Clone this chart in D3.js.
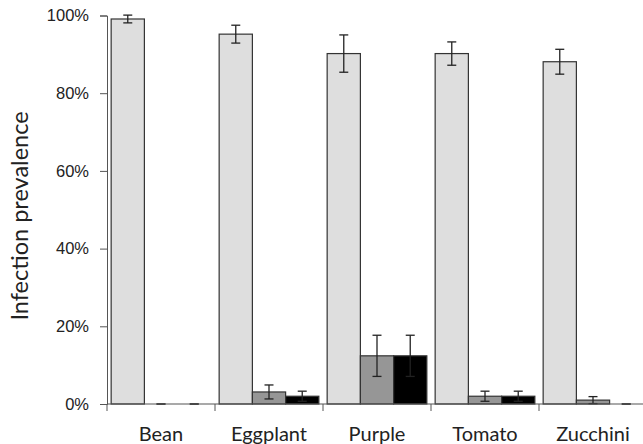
<!DOCTYPE html>
<html>
<head>
<meta charset="utf-8">
<script src="https://cdn.jsdelivr.net/npm/d3@7"></script>
<style>
  body { margin: 0; background: #fff; }
  svg { display: block; font-family: Lato, "Open Sans", sans-serif; }
</style>
</head>
<body>
<div id="chart"></div>
<script>
// data
var crops = ["Bean", "Eggplant", "Purple", "Tomato", "Zucchini"];
var series = ["s1", "s2", "s3"];
var s1 = [0.991, 0.952, 0.902, 0.902, 0.881];
var s1Err = [0.010, 0.023, 0.048, 0.030, 0.032];
var s2 = [0, 0.031, 0.124, 0.020, 0.010];
var s2Err = [0, 0.018, 0.053, 0.013, 0.009];
var s3 = [0, 0.020, 0.124, 0.020, 0];
var s3Err = [0, 0.013, 0.053, 0.013, 0];
var yTicks = [0, 0.2, 0.4, 0.6, 0.8, 1.0];

var colors = {s1: "#dedede", s2: "#969696", s3: "#000000"};
var vals = {s1: s1, s2: s2, s3: s3};
var errs = {s1: s1Err, s2: s2Err, s3: s3Err};

var width = 643, height = 444;
var margin = {top: 15.5, right: -4, bottom: 40, left: 107};

var svg = d3.select("#chart").append("svg")
    .attr("width", width)
    .attr("height", height);

var x = d3.scaleBand()
    .domain(crops)
    .range([margin.left, width - margin.right])
    .padding(0);

var xs = d3.scaleBand()
    .domain(series)
    .range([0, x.bandwidth()])
    .paddingInner(0)
    .paddingOuter(0.125);

var y = d3.scaleLinear()
    .domain([0, 1])
    .range([height - margin.bottom, margin.top]);

var rows = [];
crops.forEach(function(c, i) {
    series.forEach(function(s) {
        rows.push({crop: c, s: s, v: vals[s][i], e: errs[s][i]});
    });
});

// y axis
var yAxis = svg.append("g")
    .attr("transform", "translate(" + margin.left + ",0)")
    .call(d3.axisLeft(y).tickValues(yTicks).tickFormat(d3.format(".0%")).tickSizeOuter(0).tickSize(7).tickPadding(11));
yAxis.select(".domain").attr("stroke", "#555");
yAxis.selectAll(".tick line").attr("stroke", "#555");
yAxis.selectAll("text").style("font-size", "16.5px").attr("fill", "#222");

// bars
svg.append("g").selectAll("rect")
    .data(rows.filter(function(d) { return d.v > 0; }))
    .enter().append("rect")
    .attr("x", function(d) { return x(d.crop) + xs(d.s); })
    .attr("y", function(d) { return y(d.v); })
    .attr("width", xs.bandwidth())
    .attr("height", function(d) { return y(0) - y(d.v); })
    .attr("fill", function(d) { return colors[d.s]; })
    .attr("stroke", "#333")
    .attr("stroke-width", 1.2);

// error bars
var eb = svg.append("g").selectAll("g")
    .data(rows)
    .enter().append("g")
    .attr("transform", function(d) {
        return "translate(" + (x(d.crop) + xs(d.s) + xs.bandwidth() / 2) + ",0)";
    });
eb.append("line")
    .attr("y1", function(d) { return y(d.v + d.e); })
    .attr("y2", function(d) { return y(Math.max(0, d.v - d.e)); })
    .attr("stroke", "#222").attr("stroke-width", 1.3);
eb.append("line")
    .attr("x1", -4.5).attr("x2", 4.5)
    .attr("y1", function(d) { return y(d.v + d.e); })
    .attr("y2", function(d) { return y(d.v + d.e); })
    .attr("stroke", "#222").attr("stroke-width", 1.3);
eb.append("line")
    .attr("x1", -4.5).attr("x2", 4.5)
    .attr("y1", function(d) { return y(Math.max(0, d.v - d.e)); })
    .attr("y2", function(d) { return y(Math.max(0, d.v - d.e)); })
    .attr("stroke", "#222").attr("stroke-width", 1.3);

// x axis
var xAxis = svg.append("g");
xAxis.append("line")
    .attr("x1", margin.left).attr("x2", width)
    .attr("y1", y(0)).attr("y2", y(0))
    .attr("stroke", "#555").attr("stroke-width", 1.2);
xAxis.selectAll(".xt")
    .data(crops)
    .enter().append("line")
    .attr("x1", function(d) { return x(d); })
    .attr("x2", function(d) { return x(d); })
    .attr("y1", y(0)).attr("y2", y(0) + 7)
    .attr("stroke", "#555");
xAxis.selectAll(".xl")
    .data(crops)
    .enter().append("text")
    .attr("x", function(d) { return x(d) + xs("s2") + xs.bandwidth() / 2; })
    .attr("y", 441)
    .attr("text-anchor", "middle")
    .attr("fill", "#222")
    .style("font-size", "20px")
    .text(function(d) { return d; });

// y label
svg.append("text")
    .attr("transform", "translate(28," + 216 + ") rotate(-90)")
    .attr("text-anchor", "middle")
    .attr("fill", "#222")
    .style("font-size", "23.5px")
    .text("Infection prevalence");
</script>
</body>
</html>
